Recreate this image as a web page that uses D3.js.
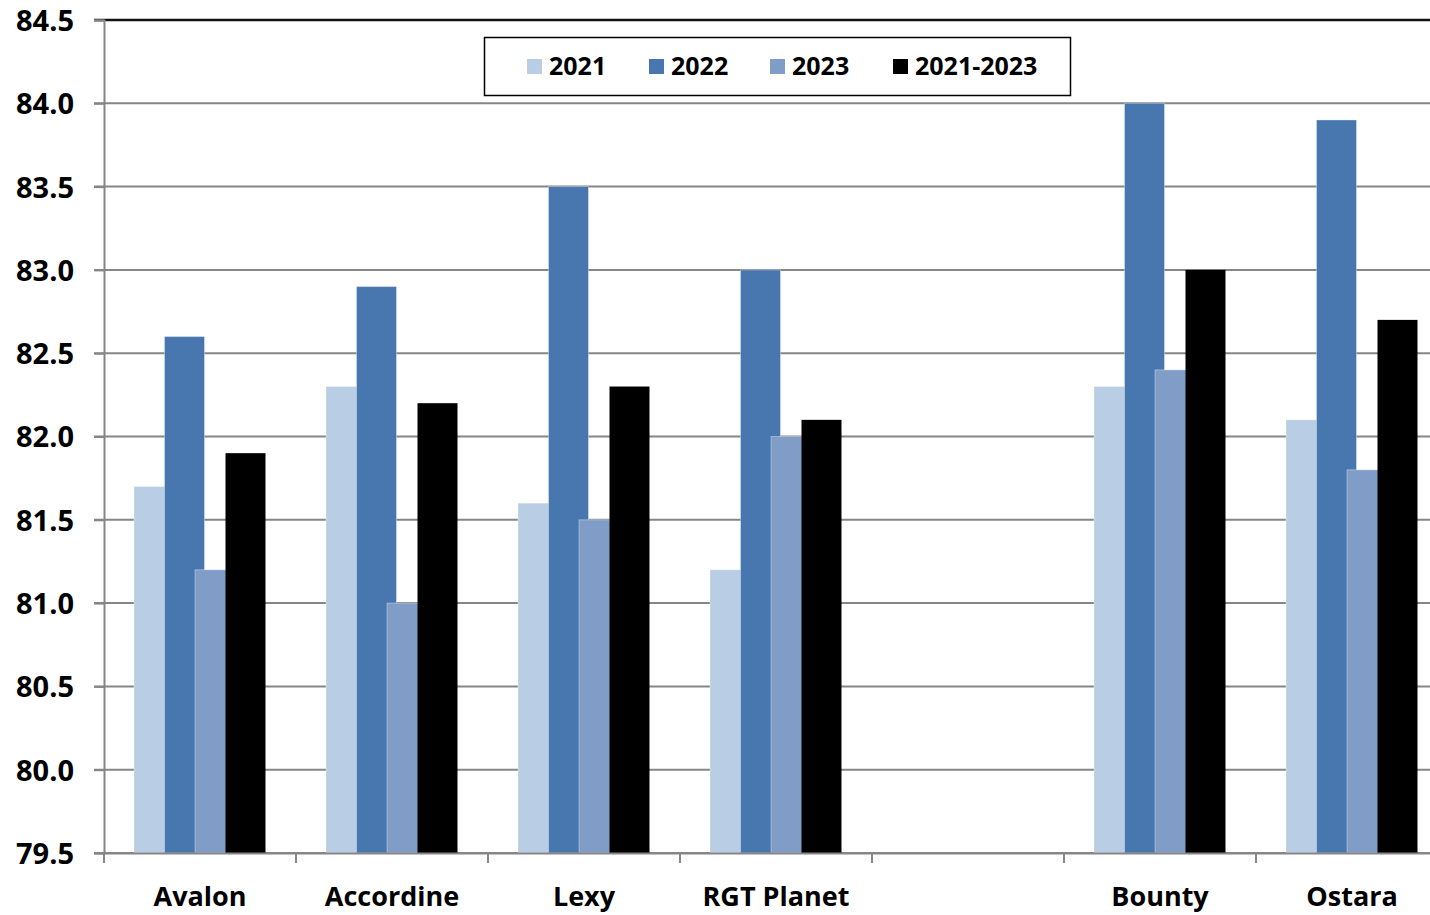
<!DOCTYPE html>
<meta charset="utf-8">
<style>
body { margin: 0; background: #fff; }
text { font-family: "Open Sans", "Noto Sans", sans-serif; font-weight: 700; fill: #000; }
.grid line { stroke: #868686; stroke-width: 2; }
</style>
<svg id="chart" width="1430" height="915"></svg>
<script src="https://d3js.org/d3.v7.min.js"></script>
<script>

const categories = ["Avalon", "Accordine", "Lexy", "RGT Planet", "", "Bounty", "Ostara"];
const seriesNames = ["2021", "2022", "2023", "2021-2023"];
const colors = ["#b9cde5", "#4877b0", "#7f9dc7", "#000000"];

const v2021 = [81.7, 82.3, 81.6, 81.2, null, 82.3, 82.1];
const v2022 = [82.6, 82.9, 83.5, 83.0, null, 84.0, 83.9];
const v2023 = [81.2, 81.0, 81.5, 82.0, null, 82.4, 81.8];
const vAll  = [81.9, 82.2, 82.3, 82.1, null, 83.0, 82.7];
const series = [v2021, v2022, v2023, vAll];

const yTicks = [79.5, 80.0, 80.5, 81.0, 81.5, 82.0, 82.5, 83.0, 83.5, 84.0, 84.5];

let svg = d3.select("#chart");

let plotLeft = 104, plotRight = 1448, plotTop = 20, plotBottom = 853;

let x = d3.scaleBand().domain(categories).range([plotLeft, plotRight]);
let y = d3.scaleLinear().domain([79.5, 84.5]).range([plotBottom, plotTop]);

// bar positions inside a category
let barW = 40, step = 30.5, offset = 30;

// gridlines
svg.append("g").attr("class", "grid")
  .selectAll("line")
  .data(yTicks)
  .enter().append("line")
  .attr("x1", plotLeft - 10).attr("x2", 1430)
  .attr("y1", d => y(d)).attr("y2", d => y(d))
  .style("stroke", d => d === 84.5 ? "#111" : null)
  .style("stroke-width", d => d === 84.5 ? 2.5 : null);

// bars
series.forEach((vals, si) => {
  svg.append("g")
    .selectAll("rect")
    .data(categories.map((c, i) => ({c: c, v: vals[i], i: i})).filter(d => d.v != null))
    .enter().append("rect")
    .attr("x", d => x.bandwidth() * d.i + plotLeft + offset + si * step)
    .attr("y", d => y(d.v))
    .attr("width", barW)
    .attr("height", d => plotBottom - y(d.v))
    .attr("fill", colors[si])
    .attr("stroke", si === 3 ? "none" : "rgba(255,255,255,0.35)")
    .attr("stroke-width", 1);
});

// y axis
let yAxis = svg.append("g")
  .attr("transform", "translate(" + plotLeft + ",0)")
  .call(d3.axisLeft(y).tickValues(yTicks).tickFormat(d3.format(".1f")).tickSize(10).tickPadding(20));
yAxis.select(".domain").attr("stroke", "#868686").attr("stroke-width", 2);
yAxis.selectAll(".tick line").attr("stroke", "#868686").attr("stroke-width", 2);
yAxis.selectAll(".tick text").style("font-size", "29px").attr("dy", "0.36em");

// x axis
let xAxis = svg.append("g")
  .attr("transform", "translate(0," + plotBottom + ")")
  .call(d3.axisBottom(x).tickSize(0).tickPadding(38));
xAxis.select(".domain").attr("stroke", "#868686").attr("stroke-width", 2);
xAxis.selectAll(".tick text").style("font-size", "27px").attr("dy", "0.55em");

svg.append("g")
  .selectAll("line")
  .data(categories)
  .enter().append("line")
  .attr("x1", d => x(d)).attr("x2", d => x(d))
  .attr("y1", plotBottom).attr("y2", plotBottom + 10)
  .attr("stroke", "#868686").attr("stroke-width", 2);

// legend
let legend = svg.append("g");
legend.append("rect")
  .attr("x", 484.5).attr("y", 37.5).attr("width", 586).attr("height", 58)
  .attr("fill", "#fff").attr("stroke", "#000").attr("stroke-width", 1.5);

let legendX = [527, 649, 770, 893];
seriesNames.forEach((s, i) => {
  legend.append("rect")
    .attr("x", legendX[i]).attr("y", 59).attr("width", 15).attr("height", 15)
    .attr("fill", colors[i]);
  legend.append("text")
    .attr("x", legendX[i] + 22).attr("y", 66)
    .attr("dy", "0.36em")
    .style("font-size", "25px")
    .text(s);
});

</script>
